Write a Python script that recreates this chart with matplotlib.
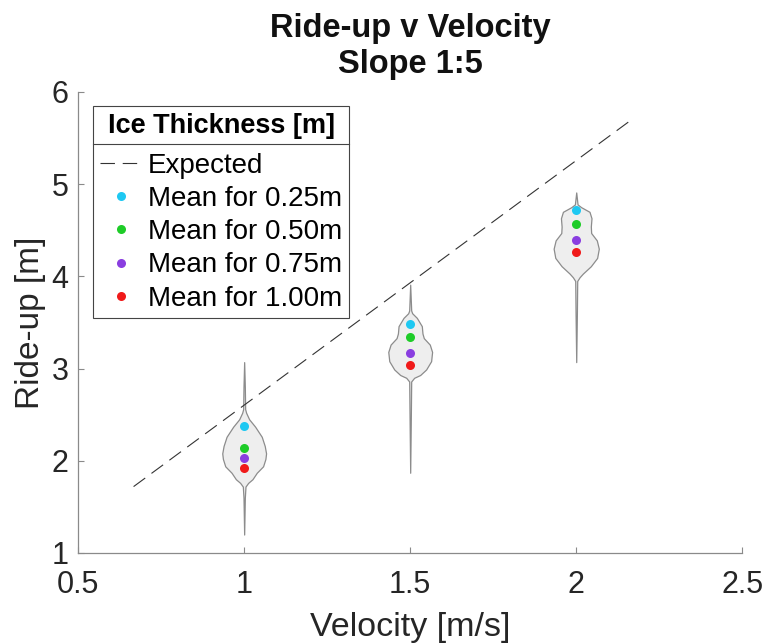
import numpy as np
import matplotlib
matplotlib.use('Agg')
import matplotlib.pyplot as plt
from matplotlib.lines import Line2D

plt.rcParams['font.family'] = ['Liberation Sans', 'DejaVu Sans']

# velocities where the violins sit
velocities = [1.0, 1.5, 2.0]

# violin outlines: (ride-up, half width in velocity units)
profile_10 = [(1.20, 0.0), (1.60, 0.002), (1.72, 0.004), (1.76, 0.012), (1.80, 0.025),
              (1.87, 0.038), (1.94, 0.057), (2.02, 0.064), (2.08, 0.066), (2.16, 0.062),
              (2.26, 0.053), (2.37, 0.033), (2.45, 0.015), (2.52, 0.006), (2.56, 0.003),
              (2.80, 0.002), (3.07, 0.0)]
profile_15 = [(1.87, 0.0), (2.50, 0.002), (2.86, 0.003), (2.90, 0.012), (2.93, 0.030),
              (2.99, 0.048), (3.08, 0.063), (3.18, 0.066), (3.26, 0.059), (3.33, 0.041),
              (3.38, 0.037), (3.46, 0.035), (3.55, 0.020), (3.60, 0.006), (3.63, 0.003),
              (3.91, 0.0)]
profile_20 = [(3.07, 0.0), (3.60, 0.002), (3.95, 0.003), (3.99, 0.010), (4.03, 0.020),
              (4.11, 0.044), (4.20, 0.063), (4.30, 0.068), (4.39, 0.062), (4.47, 0.045),
              (4.54, 0.044), (4.63, 0.046), (4.70, 0.040), (4.75, 0.015), (4.78, 0.004),
              (4.91, 0.0)]
profiles = [profile_10, profile_15, profile_20]

# means per ice thickness
thickness_labels = ['Mean for 0.25m', 'Mean for 0.50m', 'Mean for 0.75m', 'Mean for 1.00m']
mean_025 = [2.38, 3.48, 4.72]
mean_050 = [2.14, 3.34, 4.57]
mean_075 = [2.03, 3.17, 4.39]
mean_100 = [1.92, 3.04, 4.26]
means = [mean_025, mean_050, mean_075, mean_100]
mean_colors = ['#1ec8f2', '#1ecc28', '#8a3ee0', '#f01a1a']

# expected ride-up line
expected_v = [0.667, 2.167]
expected_r = [1.72, 5.70]

fig = plt.figure(figsize=(7.66, 6.43), dpi=100)
ax = fig.add_axes([0.102, 0.140, 0.867, 0.717])

for v, prof in zip(velocities, profiles):
    prof = np.array(prof)
    ax.fill_betweenx(prof[:, 0], v - prof[:, 1], v + prof[:, 1],
                     facecolor='#eeeeee', edgecolor='#8c8c8c', linewidth=0.9, zorder=2)

ax.plot(expected_v, expected_r, color='#333333', linewidth=0.8,
        dashes=(13, 7), label='Expected', zorder=3)

for vals, col, lab in zip(means, mean_colors, thickness_labels):
    ax.plot(velocities, vals, linestyle='none', marker='o', markersize=6.5,
            color=col, markeredgewidth=0, label=lab, zorder=4)

ax.set_xlim(0.5, 2.5)
ax.set_ylim(1, 6)
ax.set_xticks([0.5, 1, 1.5, 2, 2.5])
ax.set_xticklabels(['0.5', '1', '1.5', '2', '2.5'])
ax.set_yticks([1, 2, 3, 4, 5, 6])
for s in ['top', 'right']:
    ax.spines[s].set_visible(False)
for s in ['left', 'bottom']:
    ax.spines[s].set_color('#8a8a8a')
    ax.spines[s].set_linewidth(0.9)
ax.tick_params(direction='in', length=4, width=0.8, color='#8a8a8a',
               labelsize=22, labelcolor='#262626')
ax.tick_params(axis='x', pad=12)
ax.tick_params(axis='y', pad=7)

ax.set_xlabel('Velocity [m/s]', fontsize=24.5, color='#262626', labelpad=9)
ax.set_ylabel('Ride-up [m]', fontsize=24, color='#262626', labelpad=4)
ax.set_title('Ride-up v Velocity\nSlope 1:5', fontsize=23.5, fontweight='bold',
             color='#111111', pad=14, linespacing=1.2)

leg = ax.legend(loc='upper left', bbox_to_anchor=(0.023, 0.97), fontsize=20,
                title='Ice Thickness [m]', title_fontproperties={'size': 19.5, 'weight': 'bold'},
                frameon=True, fancybox=False, edgecolor='#444444', framealpha=1,
                handlelength=1.5, handletextpad=0.2, borderpad=0.25,
                labelspacing=0.26, borderaxespad=0)
leg.get_frame().set_linewidth(0.8)
leg._legend_box.sep = 10  # extra room between title and entries

# separator under the legend title
fig.canvas.draw()
r = fig.canvas.get_renderer()
fb = leg.get_frame().get_window_extent(r)
tb = leg.get_title().get_window_extent(r)
first = leg.get_texts()[0].get_window_extent(r)
ysep = (tb.y0 + first.y1) / 2 + 2
inv = fig.transFigure.inverted()
(x0, y0), (x1, _) = inv.transform([(fb.x0, ysep), (fb.x1, ysep)])
fig.add_artist(Line2D([x0, x1], [y0, y0], color='#444444', linewidth=0.8,
                      transform=fig.transFigure, zorder=10))

fig.savefig('out.png', dpi=100)
